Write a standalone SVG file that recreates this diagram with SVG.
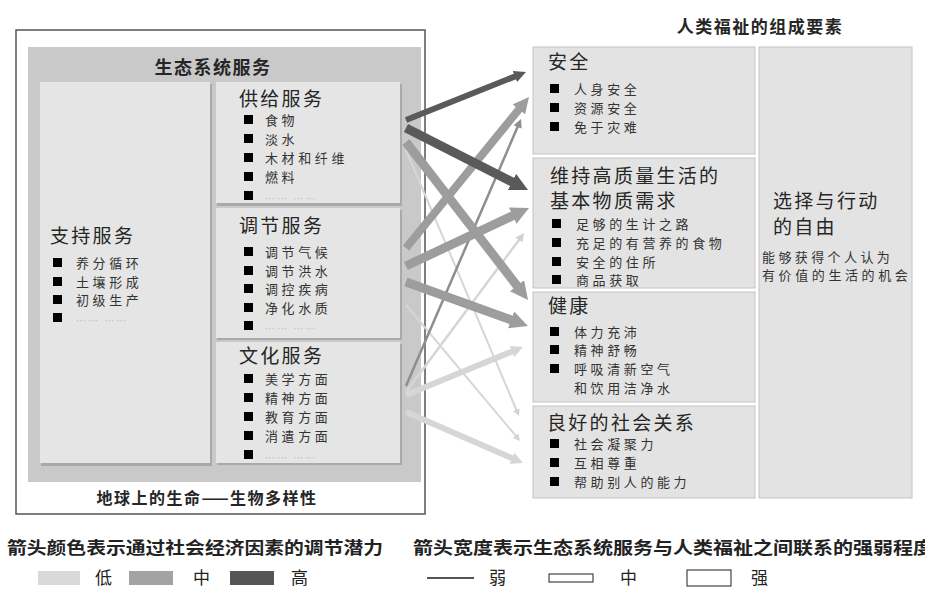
<svg xmlns="http://www.w3.org/2000/svg" width="925" height="592" viewBox="0 0 925 592">
<style>
text{font-family:"Noto Sans CJK SC","Noto Sans",sans-serif;fill:#262626}
.h1{font-size:18px;font-weight:bold;letter-spacing:1.5px}
.h2{font-size:19px;letter-spacing:2.3px}
.it{font-size:13px;letter-spacing:3.6px;fill:#333}
.dots{font-size:10px;fill:#bdbdbd;letter-spacing:2px}
.sub{fill:#e5e5e5}
.sh{fill:#a9a9a9}
.rb{fill:#e3e3e3;stroke:#c4c4c4;stroke-width:1}
.lg{font-size:17px;font-weight:bold;fill:#222}
.lb{font-size:17px;fill:#222}
</style>
<defs>
<marker id="mD" viewBox="0 0 10 10" refX="3" refY="5" markerWidth="2" markerHeight="2" orient="auto" markerUnits="strokeWidth"><path d="M0,0L10,5L0,10z" fill="#5a5a5a"/></marker>
<marker id="mM" viewBox="0 0 10 10" refX="3" refY="5" markerWidth="2" markerHeight="2" orient="auto" markerUnits="strokeWidth"><path d="M0,0L10,5L0,10z" fill="#9d9d9d"/></marker>
<marker id="mL" viewBox="0 0 10 10" refX="3" refY="5" markerWidth="2" markerHeight="2" orient="auto" markerUnits="strokeWidth"><path d="M0,0L10,5L0,10z" fill="#d6d6d6"/></marker>
<marker id="mMt" viewBox="0 0 10 10" refX="3" refY="5" markerWidth="3.5" markerHeight="3.5" orient="auto" markerUnits="strokeWidth"><path d="M0,0L10,5L0,10z" fill="#8e8e8e"/></marker>
<marker id="mLt" viewBox="0 0 10 10" refX="3" refY="5" markerWidth="3.5" markerHeight="3.5" orient="auto" markerUnits="strokeWidth"><path d="M0,0L10,5L0,10z" fill="#d2d2d2"/></marker>
</defs>
<rect width="925" height="592" fill="#ffffff"/>

<!-- Ecosystem services outer frame -->
<g id="ecosystem-frame">
<rect x="16" y="30" width="409" height="484" fill="#ffffff" stroke="#555" stroke-width="1.5"/>
<rect x="28" y="47" width="393" height="435" fill="#c9c9c9"/>
<text class="h1" x="213" y="74" text-anchor="middle">生态系统服务</text>
<text x="207" y="504" text-anchor="middle" style="font-size:16px;font-weight:bold;letter-spacing:1.5px">地球上的生命——生物多样性</text>
</g>

<g id="support-services">
<rect class="sh" x="41" y="84" width="171" height="382"/>
<rect class="sub" x="40" y="82" width="170" height="381"/>
<text class="h2" x="50" y="243">支持服务</text>
<rect x="53" y="258" width="9" height="9" fill="#000"/><text class="it" x="76" y="268">养分循环</text>
<rect x="53" y="277" width="9" height="9" fill="#000"/><text class="it" x="76" y="287">土壤形成</text>
<rect x="53" y="295" width="9" height="9" fill="#000"/><text class="it" x="76" y="305">初级生产</text>
<rect x="53" y="313" width="9" height="9" fill="#000"/><text class="dots" x="76" y="325">…… ……</text>
</g>

<g id="provisioning-services">
<rect class="sh" x="217" y="84" width="185" height="122"/>
<rect class="sub" x="216" y="82" width="184" height="121"/>
<text class="h2" x="239" y="106">供给服务</text>
<rect x="244" y="115" width="9" height="9" fill="#000"/><text class="it" x="265" y="125">食物</text>
<rect x="244" y="134" width="9" height="9" fill="#000"/><text class="it" x="265" y="144">淡水</text>
<rect x="244" y="153" width="9" height="9" fill="#000"/><text class="it" x="265" y="163">木材和纤维</text>
<rect x="244" y="172" width="9" height="9" fill="#000"/><text class="it" x="265" y="182">燃料</text>
<rect x="244" y="191" width="9" height="9" fill="#000"/><text class="dots" x="265" y="203">…… ……</text>
</g>

<g id="regulating-services">
<rect class="sh" x="217" y="210" width="185" height="130"/>
<rect class="sub" x="216" y="208" width="184" height="130"/>
<text class="h2" x="239" y="233">调节服务</text>
<rect x="244" y="247" width="9" height="9" fill="#000"/><text class="it" x="265" y="257">调节气候</text>
<rect x="244" y="266" width="9" height="9" fill="#000"/><text class="it" x="265" y="276">调节洪水</text>
<rect x="244" y="284" width="9" height="9" fill="#000"/><text class="it" x="265" y="294">调控疾病</text>
<rect x="244" y="303" width="9" height="9" fill="#000"/><text class="it" x="265" y="313">净化水质</text>
<rect x="244" y="321" width="9" height="9" fill="#000"/><text class="dots" x="265" y="333">…… ……</text>
</g>

<g id="cultural-services">
<rect class="sh" x="217" y="344" width="185" height="121"/>
<rect class="sub" x="216" y="342" width="184" height="121"/>
<text class="h2" x="239" y="363">文化服务</text>
<rect x="244" y="374" width="9" height="9" fill="#000"/><text class="it" x="265" y="384">美学方面</text>
<rect x="244" y="393" width="9" height="9" fill="#000"/><text class="it" x="265" y="403">精神方面</text>
<rect x="244" y="412" width="9" height="9" fill="#000"/><text class="it" x="265" y="422">教育方面</text>
<rect x="244" y="431" width="9" height="9" fill="#000"/><text class="it" x="265" y="441">消遣方面</text>
<rect x="244" y="450" width="9" height="9" fill="#000"/><text class="dots" x="265" y="462">…… ……</text>
</g>

<!-- Human well-being -->
<g id="wellbeing-title">
<text x="760" y="33" text-anchor="middle" style="font-size:17px;font-weight:bold;letter-spacing:1.5px">人类福祉的组成要素</text>
</g>

<g id="security">
<rect class="rb" x="533" y="47" width="222" height="107"/>
<text class="h2" x="548" y="69">安全</text>
<rect x="550" y="84" width="9" height="9" fill="#000"/><text class="it" x="574" y="94">人身安全</text>
<rect x="550" y="103" width="9" height="9" fill="#000"/><text class="it" x="574" y="113">资源安全</text>
<rect x="550" y="122" width="9" height="9" fill="#000"/><text class="it" x="574" y="132">免于灾难</text>
</g>

<g id="basic-material">
<rect class="rb" x="533" y="158" width="222" height="130"/>
<text class="h2" x="550" y="183">维持高质量生活的</text>
<text class="h2" x="550" y="208">基本物质需求</text>
<rect x="552" y="219" width="9" height="9" fill="#000"/><text class="it" x="576" y="229">足够的生计之路</text>
<rect x="552" y="238" width="9" height="9" fill="#000"/><text class="it" x="576" y="248">充足的有营养的食物</text>
<rect x="552" y="257" width="9" height="9" fill="#000"/><text class="it" x="576" y="267">安全的住所</text>
<rect x="552" y="275" width="9" height="9" fill="#000"/><text class="it" x="576" y="285">商品获取</text>
</g>

<g id="health">
<rect class="rb" x="533" y="292" width="222" height="110"/>
<text class="h2" x="548" y="313">健康</text>
<rect x="550" y="327" width="9" height="9" fill="#000"/><text class="it" x="574" y="337">体力充沛</text>
<rect x="550" y="345" width="9" height="9" fill="#000"/><text class="it" x="574" y="355">精神舒畅</text>
<rect x="550" y="364" width="9" height="9" fill="#000"/><text class="it" x="574" y="374">呼吸清新空气</text>
<text class="it" x="574" y="393">和饮用洁净水</text>
</g>

<g id="social-relations">
<rect class="rb" x="533" y="406" width="222" height="92"/>
<text class="h2" x="547" y="430">良好的社会关系</text>
<rect x="550" y="439" width="9" height="9" fill="#000"/><text class="it" x="574" y="449">社会凝聚力</text>
<rect x="550" y="458" width="9" height="9" fill="#000"/><text class="it" x="574" y="468">互相尊重</text>
<rect x="550" y="477" width="9" height="9" fill="#000"/><text class="it" x="574" y="487">帮助别人的能力</text>
</g>

<g id="freedom">
<rect class="rb" x="759" y="47" width="153" height="451"/>
<text class="h2" x="773" y="208">选择与行动</text>
<text class="h2" x="773" y="234">的自由</text>
<text x="762" y="262" style="font-size:13px;letter-spacing:3.2px;fill:#333" textLength="131">能够获得个人认为</text>
<text x="762" y="280" style="font-size:13px;letter-spacing:3.2px;fill:#333" textLength="149">有价值的生活的机会</text>
</g>

<!-- Connectors -->
<g id="connectors" fill="none" stroke-linecap="butt">
<line x1="406" y1="150" x2="517.1" y2="411.5" stroke="#d6d6d6" stroke-width="2" marker-end="url(#mLt)"/>
<line x1="406" y1="305" x2="516.9" y2="437.2" stroke="#d6d6d6" stroke-width="2" marker-end="url(#mLt)"/>
<line x1="406" y1="392" x2="520.4" y2="237.9" stroke="#d6d6d6" stroke-width="2.5" marker-end="url(#mLt)"/>
<line x1="406" y1="395" x2="515.2" y2="350.2" stroke="#d6d6d6" stroke-width="6" marker-end="url(#mL)"/>
<line x1="406" y1="412" x2="515.3" y2="459.6" stroke="#d6d6d6" stroke-width="6" marker-end="url(#mL)"/>
<line x1="406" y1="386" x2="518.6" y2="124.6" stroke="#8e8e8e" stroke-width="2.5" marker-end="url(#mMt)"/>
<line x1="406" y1="142" x2="520.3" y2="290" stroke="#9d9d9d" stroke-width="9" marker-end="url(#mM)"/>
<line x1="406" y1="248" x2="521.9" y2="105.7" stroke="#9d9d9d" stroke-width="8" marker-end="url(#mM)"/>
<line x1="406" y1="266" x2="517.6" y2="213.4" stroke="#9d9d9d" stroke-width="9" marker-end="url(#mM)"/>
<line x1="406" y1="282" x2="516.1" y2="321.7" stroke="#9d9d9d" stroke-width="9" marker-end="url(#mM)"/>
<line x1="406" y1="120" x2="518.2" y2="75.1" stroke="#5a5a5a" stroke-width="6" marker-end="url(#mD)"/>
<line x1="406" y1="128" x2="516.8" y2="184.3" stroke="#5a5a5a" stroke-width="9" marker-end="url(#mD)"/>
</g>

<!-- Legends -->
<g id="legend-color">
<text class="lg" x="7" y="554" textLength="376" lengthAdjust="spacingAndGlyphs">箭头颜色表示通过社会经济因素的调节潜力</text>
<rect x="38" y="571" width="42" height="14" fill="#d9d9d9"/>
<text class="lb" x="95" y="584">低</text>
<rect x="129" y="571" width="44" height="14" fill="#a3a3a3"/>
<text class="lb" x="193" y="584">中</text>
<rect x="230" y="571" width="44" height="14" fill="#555555"/>
<text class="lb" x="291" y="584">高</text>
</g>

<g id="legend-width">
<text class="lg" x="413" y="554" textLength="520" lengthAdjust="spacingAndGlyphs">箭头宽度表示生态系统服务与人类福祉之间联系的强弱程度</text>
<line x1="427" y1="578" x2="474" y2="578" stroke="#555" stroke-width="2"/>
<text class="lb" x="489" y="584">弱</text>
<rect x="549" y="574" width="44" height="8" fill="#fff" stroke="#444" stroke-width="1.2"/>
<text class="lb" x="620" y="584">中</text>
<rect x="687" y="570" width="44" height="16" fill="#fff" stroke="#444" stroke-width="1.2"/>
<text class="lb" x="751" y="584">强</text>
</g>
</svg>
